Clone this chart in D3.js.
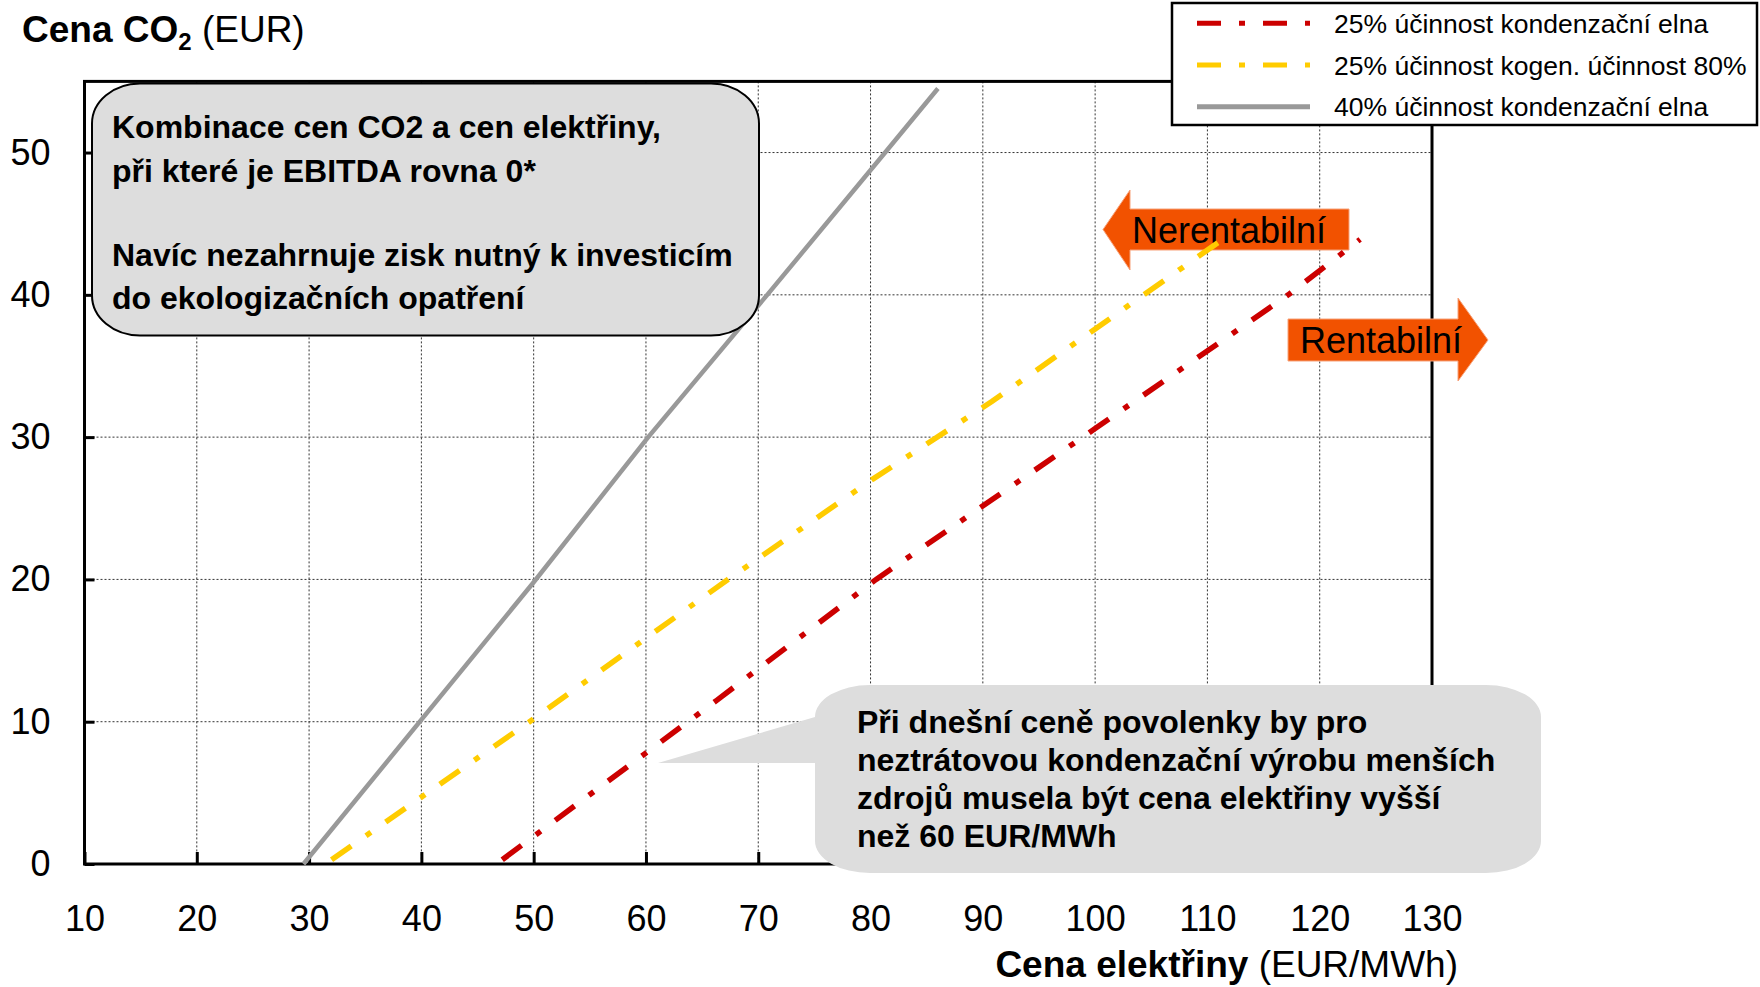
<!DOCTYPE html>
<html>
<head>
<meta charset="utf-8">
<script src="https://cdn.jsdelivr.net/npm/d3@7"></script>
<style>
  body { margin: 0; background: #fff; }
  text { font-family: "Liberation Sans", Arial, sans-serif; }
</style>
</head>
<body>
<div id="chart"></div>
<script>
// ticks
const xTicks = [10, 20, 30, 40, 50, 60, 70, 80, 90, 100, 110, 120, 130];
const yTicks = [0, 10, 20, 30, 40, 50];

// series: electricity price (x) vs CO2 price (y)
const redX = [47.2, 66.3, 80.5, 100, 117.2, 123.6];
const redY = [0.3, 11.5, 20, 30.6, 40, 43.9];
const yellowX = [32, 50, 67.3, 80.2, 90.8, 111];
const yellowY = [0.3, 10.2, 20, 27.05, 32.5, 43.7];
const grayX = [29.5, 50, 60.2, 70.8, 81.3, 86];
const grayY = [0, 19.8, 30, 40, 50, 54.5];

const seriesNames = [
    "25% účinnost kondenzační elna",
    "25% účinnost kogen. účinnost 80%",
    "40% účinnost kondenzační elna"
];

const W = 1760, H = 987;
const svg = d3.select("#chart").append("svg")
    .attr("width", W)
    .attr("height", H);

const x = d3.scaleLinear().domain([10, 130]).range([84.5, 1432]);
const y = d3.scaleLinear().domain([0, 55]).range([864, 81.4]);

const series = [
    { name: seriesNames[0], xs: redX, ys: redY, color: "#cc0000", dash: "24,18,6,18", width: 5.5 },
    { name: seriesNames[1], xs: yellowX, ys: yellowY, color: "#ffcc00", dash: "24,18,6,18", width: 5.5 },
    { name: seriesNames[2], xs: grayX, ys: grayY, color: "#999999", dash: null, width: 4.5 }
];

// grid
const grid = svg.append("g");
grid.selectAll("line.v")
    .data(xTicks.slice(1, -1))
    .join("line")
    .attr("x1", d => x(d)).attr("x2", d => x(d))
    .attr("y1", y(55)).attr("y2", y(0))
    .attr("stroke", "#333").attr("stroke-width", 1).attr("stroke-dasharray", "2,2");
grid.selectAll("line.h")
    .data(yTicks.slice(1))
    .join("line")
    .attr("x1", x(10)).attr("x2", x(130))
    .attr("y1", d => y(d)).attr("y2", d => y(d))
    .attr("stroke", "#333").attr("stroke-width", 1).attr("stroke-dasharray", "2,2");

// axes
const xAxis = svg.append("g")
    .attr("transform", `translate(0,${y(0)})`)
    .call(d3.axisBottom(x).tickValues(xTicks).tickSize(-12).tickPadding(41));
const yAxis = svg.append("g")
    .attr("transform", `translate(${x(10)},0)`)
    .call(d3.axisLeft(y).tickValues(yTicks).tickSize(-10).tickPadding(34));
[xAxis, yAxis].forEach(a => {
    a.select(".domain").remove();
    a.selectAll(".tick line").attr("stroke", "#000").attr("stroke-width", 3);
    a.selectAll(".tick text").attr("font-size", 36).attr("fill", "#000")
        .style("font-family", "'Liberation Sans', Arial, sans-serif");
});

// frame
svg.append("rect")
    .attr("x", x(10)).attr("y", y(55))
    .attr("width", x(130) - x(10)).attr("height", y(0) - y(55))
    .attr("fill", "none").attr("stroke", "#000").attr("stroke-width", 3);

// arrows
const orange = "#f25200";
svg.append("path")
    .attr("d", "M1103,229.5 L1130,190 L1130,209 L1349,209 L1349,250 L1130,250 L1130,270 Z")
    .attr("fill", orange).attr("stroke", "#f7a27a").attr("stroke-width", 1);
svg.append("text").attr("x", 1132).attr("y", 243).attr("font-size", 36).text("Nerentabilní");
svg.append("path")
    .attr("d", "M1288,319 L1458,319 L1458,298 L1488,340 L1458,381 L1458,361 L1288,361 Z")
    .attr("fill", orange).attr("stroke", "#f7a27a").attr("stroke-width", 1);
svg.append("text").attr("x", 1300).attr("y", 353).attr("font-size", 36).text("Rentabilní");

// lines
const line = d3.line().x(d => x(d[0])).y(d => y(d[1]));
svg.append("g").selectAll("path")
    .data(series)
    .join("path")
    .attr("d", s => line(s.xs.map((v, i) => [v, s.ys[i]])))
    .attr("fill", "none")
    .attr("stroke", s => s.color)
    .attr("stroke-width", s => s.width)
    .attr("stroke-dasharray", s => s.dash);

// box 1
svg.append("rect")
    .attr("x", 92).attr("y", 83.5).attr("width", 667).attr("height", 252)
    .attr("rx", 48).attr("ry", 40)
    .attr("fill", "#dddddd").attr("stroke", "#000").attr("stroke-width", 2);
const box1Lines = [
    ["Kombinace cen CO2 a cen elektřiny,", 138],
    ["při které je EBITDA rovna 0*", 182],
    ["Navíc nezahrnuje zisk nutný k investicím", 266],
    ["do ekologizačních opatření", 309]
];
svg.append("g").selectAll("text")
    .data(box1Lines)
    .join("text")
    .attr("x", 112).attr("y", d => d[1])
    .attr("font-size", 32).attr("font-weight", "bold")
    .text(d => d[0]);

// callout 2
const L = 815, T = 685, R = 1541, B = 873, rx = 55, ry = 32;
svg.append("path")
    .attr("d", `M${L + rx},${T} H${R - rx} A${rx},${ry} 0 0 1 ${R},${T + ry} V${B - ry}
        A${rx},${ry} 0 0 1 ${R - rx},${B} H${L + rx} A${rx},${ry} 0 0 1 ${L},${B - ry}
        V763 L658,763 L${L},${T + ry} A${rx},${ry} 0 0 1 ${L + rx},${T} Z`)
    .attr("fill", "#dddddd");
const box2Lines = [
    ["Při dnešní ceně povolenky by pro", 733],
    ["neztrátovou kondenzační výrobu menších", 771],
    ["zdrojů musela být cena elektřiny vyšší", 809],
    ["než 60 EUR/MWh", 847]
];
svg.append("g").selectAll("text")
    .data(box2Lines)
    .join("text")
    .attr("x", 857).attr("y", d => d[1])
    .attr("font-size", 32).attr("font-weight", "bold")
    .text(d => d[0]);

// titles
const t1 = svg.append("text").attr("x", 22).attr("y", 42).attr("font-size", 37);
t1.append("tspan").attr("font-weight", "bold").text("Cena CO");
t1.append("tspan").attr("font-weight", "bold").attr("font-size", 24).attr("dy", 8).text("2");
t1.append("tspan").attr("dy", -8).text(" (EUR)");

const t2 = svg.append("text").attr("x", 1458).attr("y", 977).attr("font-size", 37)
    .attr("text-anchor", "end");
t2.append("tspan").attr("font-weight", "bold").text("Cena elektřiny ");
t2.append("tspan").text("(EUR/MWh)");

// legend
svg.append("rect")
    .attr("x", 1172).attr("y", 3).attr("width", 585).attr("height", 122)
    .attr("fill", "#fff").attr("stroke", "#000").attr("stroke-width", 2.5);
const legendY = [23.3, 65, 106.7];
const lg = svg.append("g").selectAll("g")
    .data(series)
    .join("g")
    .attr("transform", (d, i) => `translate(0,${legendY[i]})`);
lg.append("line")
    .attr("x1", 1197).attr("x2", 1310)
    .attr("stroke", d => d.color)
    .attr("stroke-width", 5)
    .attr("stroke-dasharray", d => d.dash);
lg.append("text")
    .attr("x", 1334).attr("y", 9.5)
    .attr("font-size", 26.5)
    .text(d => d.name);
</script>
</body>
</html>
